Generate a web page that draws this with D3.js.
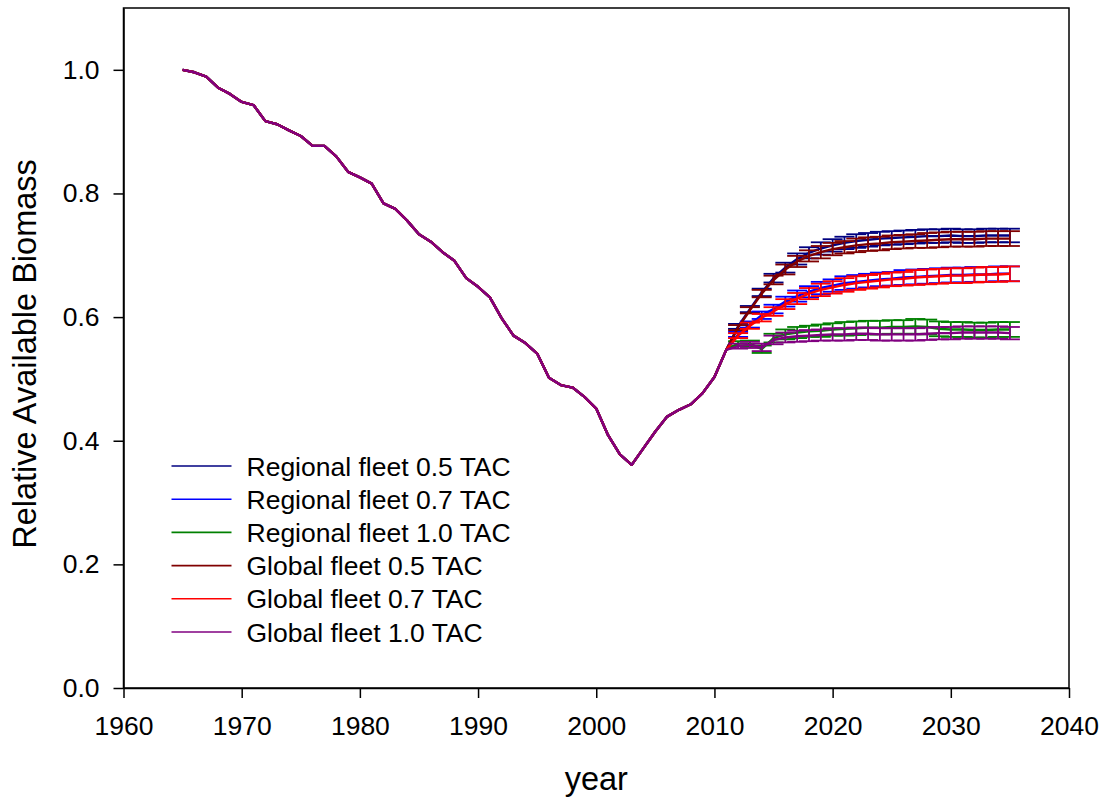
<!DOCTYPE html>
<html>
<head>
<meta charset="utf-8">
<script src="https://cdn.jsdelivr.net/npm/d3@7"></script>
<style>
  body { margin: 0; background: #fff; }
  text { font-family: "Liberation Sans", Arial, sans-serif; }
</style>
</head>
<body>
<svg id="chart" width="1102" height="805"></svg>
<script>
// historical biomass, 1965-2011
var histYears = d3.range(1965, 2012);
var histValues = [1.000, 0.996, 0.989, 0.971, 0.961, 0.948, 0.943, 0.917, 0.912, 0.902,
  0.893, 0.877, 0.877, 0.860, 0.835, 0.826, 0.816, 0.784, 0.775, 0.756,
  0.734, 0.722, 0.705, 0.691, 0.663, 0.649, 0.632, 0.598, 0.570, 0.558,
  0.541, 0.502, 0.490, 0.486, 0.471, 0.452, 0.409, 0.378, 0.361, 0.388,
  0.415, 0.439, 0.450, 0.459, 0.477, 0.503, 0.547];

// projections, 2012-2035
var projYears = d3.range(2012, 2036);

var regional05 = [0.585, 0.613, 0.640, 0.663, 0.680, 0.694, 0.704, 0.711, 0.716, 0.720, 0.723, 0.725,
  0.727, 0.728, 0.729, 0.730, 0.731, 0.731, 0.732, 0.731, 0.731, 0.732, 0.732, 0.732];
var regional07 = [0.572, 0.588, 0.603, 0.613, 0.625, 0.634, 0.641, 0.647, 0.651, 0.655, 0.657, 0.659,
  0.661, 0.662, 0.664, 0.665, 0.666, 0.667, 0.668, 0.668, 0.669, 0.669, 0.670, 0.670];
var regional10 = [0.557, 0.557, 0.548, 0.566, 0.572, 0.575, 0.577, 0.578, 0.580, 0.581, 0.582, 0.583,
  0.583, 0.584, 0.584, 0.585, 0.584, 0.581, 0.580, 0.580, 0.579, 0.579, 0.580, 0.580];
var global05 = [0.583, 0.611, 0.638, 0.660, 0.677, 0.690, 0.699, 0.705, 0.710, 0.713, 0.716, 0.718,
  0.719, 0.721, 0.722, 0.723, 0.724, 0.725, 0.726, 0.726, 0.726, 0.727, 0.727, 0.727];
var global07 = [0.570, 0.586, 0.599, 0.609, 0.621, 0.630, 0.638, 0.644, 0.648, 0.652, 0.655, 0.657,
  0.659, 0.661, 0.662, 0.664, 0.665, 0.666, 0.667, 0.667, 0.668, 0.669, 0.669, 0.670];
var global10 = [0.553, 0.555, 0.551, 0.563, 0.567, 0.569, 0.570, 0.571, 0.572, 0.572, 0.573, 0.573,
  0.572, 0.572, 0.572, 0.572, 0.573, 0.574, 0.574, 0.575, 0.575, 0.575, 0.575, 0.574];

// half-width of the error bars
var errR05 = [0.004, 0.005, 0.006, 0.007, 0.008, 0.009, 0.009, 0.010, 0.010, 0.010, 0.011, 0.011,
  0.011, 0.011, 0.011, 0.011, 0.011, 0.011, 0.011, 0.011, 0.011, 0.011, 0.011, 0.011];
var errR07 = [0.004, 0.005, 0.006, 0.007, 0.008, 0.009, 0.009, 0.010, 0.010, 0.011, 0.011, 0.011,
  0.011, 0.011, 0.012, 0.012, 0.012, 0.012, 0.012, 0.012, 0.012, 0.012, 0.012, 0.012];
var errR10 = [0.004, 0.005, 0.006, 0.007, 0.008, 0.009, 0.009, 0.010, 0.010, 0.011, 0.011, 0.011,
  0.011, 0.011, 0.011, 0.012, 0.012, 0.012, 0.012, 0.012, 0.012, 0.012, 0.012, 0.012];
var errG05 = [0.004, 0.005, 0.006, 0.007, 0.008, 0.009, 0.009, 0.010, 0.010, 0.010, 0.011, 0.011,
  0.011, 0.011, 0.011, 0.011, 0.012, 0.012, 0.012, 0.012, 0.012, 0.012, 0.012, 0.012];
var errG07 = [0.004, 0.005, 0.006, 0.007, 0.008, 0.009, 0.009, 0.010, 0.010, 0.011, 0.011, 0.011,
  0.011, 0.011, 0.011, 0.012, 0.012, 0.012, 0.012, 0.012, 0.012, 0.012, 0.012, 0.012];
var errG10 = [0.004, 0.005, 0.006, 0.007, 0.008, 0.009, 0.009, 0.009, 0.010, 0.010, 0.010, 0.010,
  0.010, 0.010, 0.010, 0.010, 0.010, 0.010, 0.010, 0.010, 0.010, 0.010, 0.010, 0.010];

var seriesNames = ["Regional fleet 0.5 TAC", "Regional fleet 0.7 TAC", "Regional fleet 1.0 TAC",
  "Global fleet 0.5 TAC", "Global fleet 0.7 TAC", "Global fleet 1.0 TAC"];
var seriesColors = ["#000080", "#0000ff", "#008000", "#800000", "#ff0000", "#800080"];
var seriesValues = [regional05, regional07, regional10, global05, global07, global10];
var seriesErrors = [errR05, errR07, errR10, errG05, errG07, errG10];

var xTicks = [1960, 1970, 1980, 1990, 2000, 2010, 2020, 2030, 2040];
var yTicks = [0.0, 0.2, 0.4, 0.6, 0.8, 1.0];

var svg = d3.select("svg#chart"),
    margin = {top: 8, right: 33, bottom: 117, left: 123.5},
    width = +svg.attr("width") - margin.left - margin.right,
    height = +svg.attr("height") - margin.top - margin.bottom;

var x = d3.scaleLinear().domain([1960, 2040]).range([0, width]);
var y = d3.scaleLinear().domain([0, 1.1]).range([height, 0]);

var g = svg.append("g").attr("transform", "translate(" + margin.left + "," + margin.top + ")");

// frame
g.append("rect")
    .attr("width", width)
    .attr("height", height)
    .attr("fill", "none")
    .attr("stroke", "#000")
    .attr("stroke-width", 1.5);

var xAxis = g.append("g")
    .attr("transform", "translate(0," + height + ")")
    .call(d3.axisBottom(x).tickValues(xTicks).tickFormat(d3.format("d")).tickSize(10).tickPadding(18).tickSizeOuter(0));
var yAxis = g.append("g")
    .call(d3.axisLeft(y).tickValues(yTicks).tickFormat(d3.format(".1f")).tickSize(10).tickPadding(14).tickSizeOuter(0));

[xAxis, yAxis].forEach(function(a) {
  a.selectAll("path, line").attr("stroke", "#000").attr("stroke-width", 1.5);
  a.selectAll("text").attr("fill", "#000").style("font-size", "26.5px");
});

// axis titles
g.append("text")
    .attr("x", width / 2)
    .attr("y", height + 102)
    .attr("text-anchor", "middle")
    .style("font-size", "32.5px")
    .text("year");

svg.append("text")
    .attr("transform", "translate(36," + (margin.top + height / 2 + 6) + ") rotate(-90)")
    .attr("text-anchor", "middle")
    .style("font-size", "32.5px")
    .text("Relative Available Biomass");

var line = d3.line()
    .x(function(d) { return x(d.year); })
    .y(function(d) { return y(d.value); });

seriesValues.forEach(function(vals, i) {
  var color = seriesColors[i];
  var pts = histYears.map(function(yr, j) { return {year: yr, value: histValues[j]}; })
    .concat(projYears.map(function(yr, j) { return {year: yr, value: vals[j], err: seriesErrors[i][j]}; }));

  var s = g.append("g").attr("class", "series");

  s.append("path")
      .datum(pts)
      .attr("fill", "none")
      .attr("stroke", color)
      .attr("stroke-width", 2.4)
      .attr("stroke-linejoin", "round")
      .attr("d", line);

  var bars = s.selectAll(".bar")
    .data(pts.filter(function(d) { return d.err !== undefined; }))
    .enter().append("g")
      .attr("class", "bar")
      .attr("stroke", color)
      .attr("stroke-width", 1.8);

  bars.append("line")
      .attr("x1", function(d) { return x(d.year); })
      .attr("x2", function(d) { return x(d.year); })
      .attr("y1", function(d) { return y(d.value + d.err); })
      .attr("y2", function(d) { return y(d.value - d.err); });
  bars.append("line")
      .attr("x1", function(d) { return x(d.year) - 10; })
      .attr("x2", function(d) { return x(d.year) + 10; })
      .attr("y1", function(d) { return y(d.value + d.err); })
      .attr("y2", function(d) { return y(d.value + d.err); });
  bars.append("line")
      .attr("x1", function(d) { return x(d.year) - 10; })
      .attr("x2", function(d) { return x(d.year) + 10; })
      .attr("y1", function(d) { return y(d.value - d.err); })
      .attr("y2", function(d) { return y(d.value - d.err); });
});

// legend
var legend = g.selectAll(".legend")
  .data(seriesNames)
  .enter().append("g")
    .attr("class", "legend")
    .attr("transform", function(d, i) { return "translate(48," + (458 + i * 33.2) + ")"; });

legend.append("line")
    .attr("x1", 0)
    .attr("x2", 60)
    .attr("stroke", function(d, i) { return seriesColors[i]; })
    .attr("stroke-width", 1.6);

legend.append("text")
    .attr("x", 75)
    .attr("y", 9.5)
    .style("font-size", "26.5px")
    .text(function(d) { return d; });
</script>
</body>
</html>
